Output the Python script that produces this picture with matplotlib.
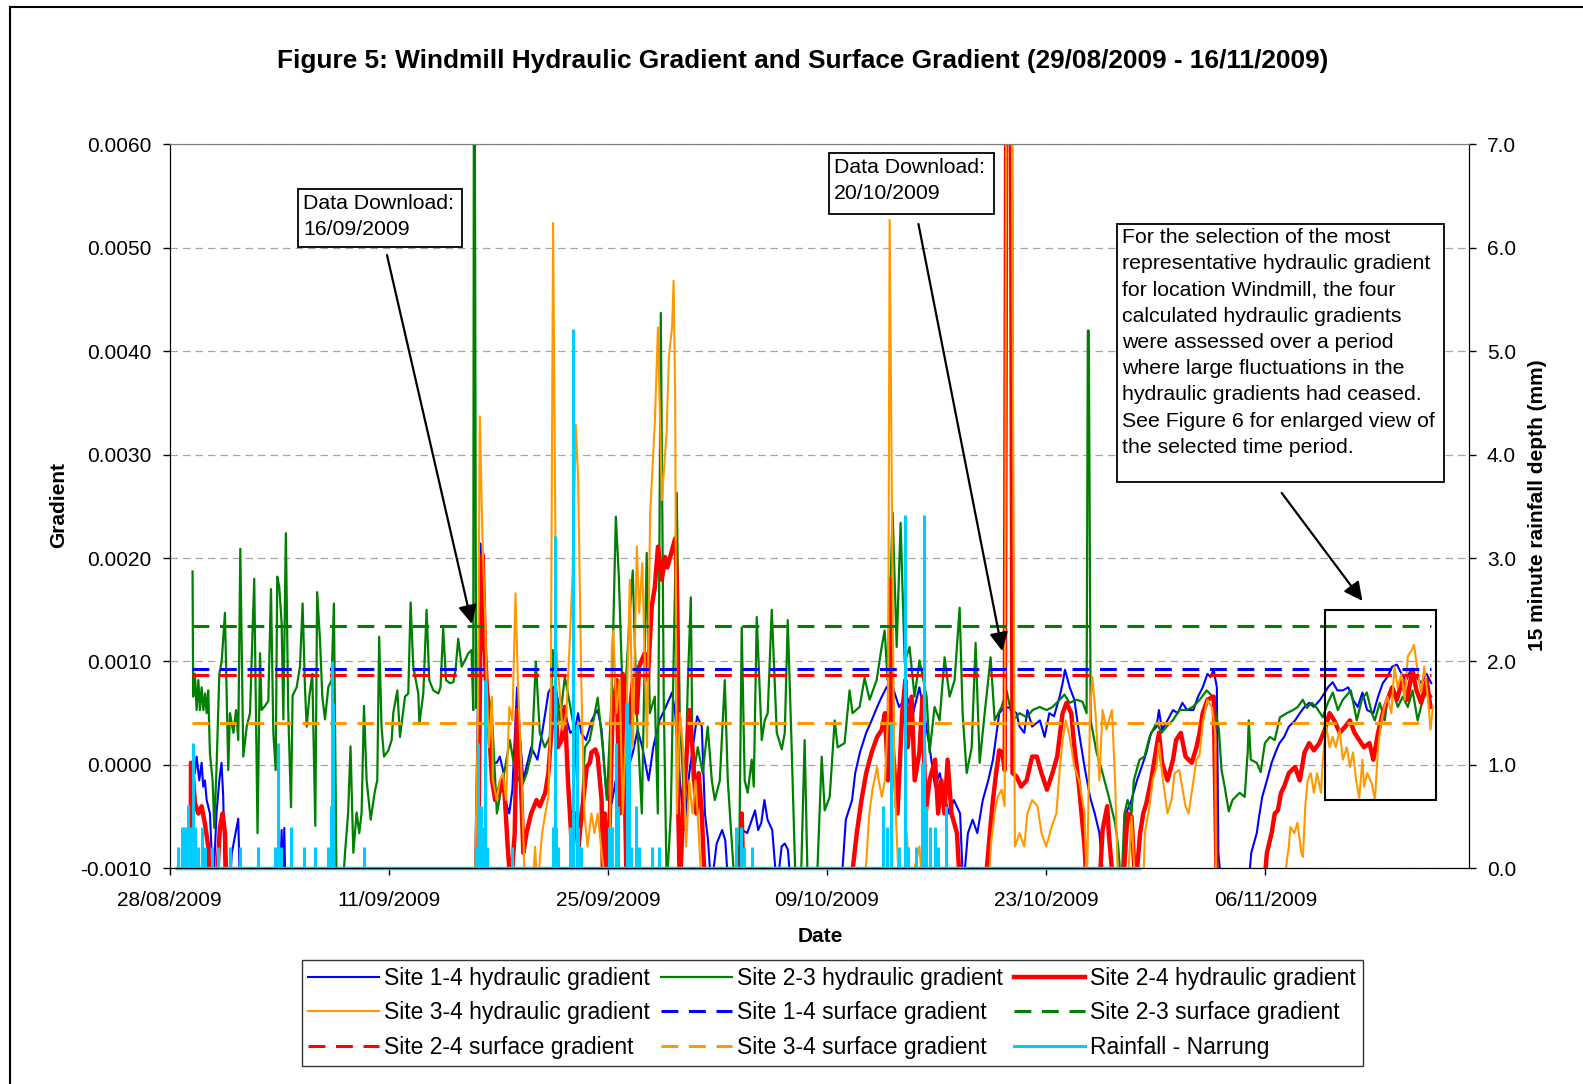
import matplotlib
matplotlib.use('Agg')
import matplotlib.pyplot as plt
import matplotlib.dates as mdates
from matplotlib.lines import Line2D
from matplotlib.patches import Rectangle
from matplotlib.ticker import FormatStrFormatter
from datetime import datetime
import numpy as np

plt.rcParams['font.family'] = ['Liberation Sans', 'DejaVu Sans']

# day offset from 28/08/2009 00:00, gradient in units of 1e-3
# (-1.2 = below the bottom of the axis)
site14_hyd = [
    (1.52, 0.08), (1.62, -0.08), (1.73, 0.08), (1.90, -0.15), (2.05, 0.02), (2.15, -0.21),
    (2.26, -0.15), (2.37, -0.34), (2.58, -0.47), (2.79, -1.2), (3.00, -0.47), (3.18, -0.15),
    (3.32, 0.02), (3.43, -0.31), (3.54, -1.2), (3.86, -1.2), (3.97, -0.86), (4.18, -0.69),
    (4.39, -0.52), (4.50, -1.2), (7.05, -1.2), (7.16, -0.63), (7.25, -1.2), (7.33, -0.61),
    (7.40, -1.2), (19.50, -1.2), (19.87, 2.14), (20.14, 0.82), (20.35, 0.50), (20.66, 0.02),
    (20.90, 0.02), (21.10, 0.08), (21.30, -0.05), (21.50, -0.37), (21.70, -0.47), (21.90, -0.24),
    (22.20, 0.75), (22.40, 0.24), (22.60, -0.15), (22.80, -0.02), (23.10, 0.17), (23.50, 0.05),
    (23.80, 0.31), (24.00, 0.50), (24.20, 0.70), (24.40, 0.75), (24.70, 0.70), (24.90, 0.56),
    (25.25, 0.50), (25.60, 0.31), (25.90, 0.34), (26.10, 0.50), (26.30, 0.31), (26.60, 0.24),
    (26.97, 0.43), (27.20, 0.50), (27.35, 0.53), (27.60, 0.34), (27.90, -0.27), (28.25, -0.37),
    (28.50, -0.15), (28.80, -0.47), (29.20, -0.08), (29.60, 0.12), (29.90, 0.34), (30.20, 0.17),
    (30.60, -0.15), (30.90, 0.17), (31.30, 0.43), (31.70, 0.56), (32.10, 0.70), (32.30, 0.50),
    (32.60, -0.15), (32.90, -0.63), (33.20, -0.08), (33.55, 0.31), (33.70, 0.47), (34.00, 0.37),
    (34.20, -0.47), (34.40, -0.73), (34.60, -1.2), (34.95, -0.76), (35.30, -0.63), (35.50, -0.73),
    (35.70, -1.2), (36.20, -1.2), (36.40, -0.79), (36.60, -0.63), (36.90, -0.66), (37.20, -0.53),
    (37.40, -0.44), (37.60, -0.63), (37.80, -0.56), (38.00, -0.34), (38.20, -0.53), (38.50, -0.63),
    (38.80, -1.2), (39.10, -0.79), (39.30, -0.76), (39.50, -0.82), (39.70, -1.2), (42.90, -1.2),
    (43.20, -0.53), (43.60, -0.34), (43.80, -0.08), (44.10, 0.12), (44.50, 0.31), (44.85, 0.43),
    (45.20, 0.56), (45.50, 0.66), (45.80, 0.75), (46.10, 0.80), (46.60, 0.56), (47.10, 0.66),
    (47.50, 0.50), (47.90, 0.75), (48.20, 0.50), (48.55, 0.17), (48.90, -0.21), (49.20, -0.08),
    (49.50, -0.31), (49.80, -0.47), (50.10, -0.34), (50.50, -0.47), (50.70, -1.2), (51.00, -0.66),
    (51.30, -0.53), (51.60, -0.66), (51.95, -0.34), (52.30, -0.15), (52.60, 0.05), (53.00, 0.50),
    (53.35, 0.56), (53.70, 0.55), (54.10, 0.50), (54.30, 0.37), (54.60, 0.31), (54.80, 0.53),
    (55.10, 0.37), (55.60, 0.43), (55.90, 0.27), (56.20, 0.50), (56.50, 0.47), (56.86, 0.66),
    (57.05, 0.79), (57.20, 0.92), (57.50, 0.75), (57.80, 0.63), (58.10, 0.31), (58.45, -0.02),
    (58.80, -0.31), (59.10, -0.47), (59.40, -0.66), (59.70, -1.2), (60.90, -1.2), (61.10, -0.47),
    (61.45, -0.34), (61.80, -0.15), (62.10, -0.02), (62.40, 0.12), (62.70, 0.31), (63.05, 0.37),
    (63.20, 0.53), (63.40, 0.34), (63.75, 0.43), (64.10, 0.53), (64.40, 0.50), (64.70, 0.60),
    (65.00, 0.53), (65.40, 0.53), (65.70, 0.66), (66.00, 0.75), (66.30, 0.88), (66.50, 0.85),
    (66.70, 0.92), (66.90, 0.75), (67.00, -0.85), (67.20, -1.2), (68.90, -1.2), (69.10, -0.85),
    (69.45, -0.66), (69.60, -0.50), (69.80, -0.31), (70.10, -0.15), (70.40, 0.02), (70.70, 0.14),
    (70.90, 0.21), (71.20, 0.27), (71.50, 0.37), (71.90, 0.43), (72.20, 0.50), (72.50, 0.56),
    (72.80, 0.60), (73.10, 0.56), (73.50, 0.63), (73.80, 0.70), (74.00, 0.75), (74.30, 0.80),
    (74.60, 0.72), (74.95, 0.72), (75.30, 0.75), (75.60, 0.63), (75.90, 0.56), (76.20, 0.70),
    (76.50, 0.53), (76.90, 0.50), (77.20, 0.66), (77.50, 0.79), (77.80, 0.85), (78.10, 0.95),
    (78.40, 0.97), (78.70, 0.88), (79.00, 0.82), (79.30, 0.92), (79.65, 0.85), (79.95, 0.79),
    (80.30, 0.88), (80.60, 0.79),
]

site23_hyd = [
    (1.47, 1.87), (1.51, 0.66), (1.62, 0.88), (1.73, 0.53), (1.84, 0.82), (1.94, 0.53),
    (2.05, 0.75), (2.16, 0.53), (2.27, 0.69), (2.37, 0.50), (2.47, 0.72), (2.58, 0.11),
    (2.75, -0.15), (2.86, -0.61), (3.01, 0.01), (3.18, 0.88), (3.33, 1.00), (3.54, 1.47),
    (3.75, -0.05), (3.86, 0.50), (4.08, 0.31), (4.25, 0.53), (4.39, 0.24), (4.52, 2.09),
    (4.71, 0.08), (4.93, 0.37), (5.14, 0.50), (5.41, 1.80), (5.62, -0.66), (5.78, 1.08),
    (5.88, 0.53), (6.10, 0.57), (6.31, 0.62), (6.48, 1.70), (6.63, 0.31), (6.78, -0.05),
    (6.88, 1.82), (7.01, 1.72), (7.16, 1.37), (7.27, 0.44), (7.43, 2.24), (7.58, 0.53),
    (7.76, -0.41), (7.86, 0.67), (8.12, 0.75), (8.33, 0.95), (8.50, 1.56), (8.65, 0.75),
    (8.76, 0.37), (8.93, 0.66), (9.12, 0.88), (9.31, -0.59), (9.43, 1.67), (9.61, 1.21),
    (9.76, 0.66), (9.93, 0.44), (10.14, 0.75), (10.35, 0.82), (10.50, 1.56), (10.67, -1.2),
    (11.06, -1.2), (11.21, -0.85), (11.41, -0.46), (11.56, 0.18), (11.74, -0.85), (11.95, -0.46),
    (12.12, -0.66), (12.27, -0.46), (12.42, 0.57), (12.59, -0.15), (12.85, -0.53), (13.12, -0.25),
    (13.27, -0.15), (13.39, 1.24), (13.54, 0.37), (13.70, 0.08), (13.98, 0.14), (14.19, 0.24),
    (14.29, 0.50), (14.55, 0.72), (14.72, 0.27), (15.04, 0.66), (15.25, 0.69), (15.40, 1.57),
    (15.57, 0.95), (15.89, 0.69), (15.96, 0.40), (16.21, 0.69), (16.42, 1.50), (16.59, 0.82),
    (16.85, 0.72), (17.17, 0.69), (17.31, 0.75), (17.48, 1.32), (17.66, 0.82), (17.91, 0.79),
    (18.13, 0.80), (18.27, 0.92), (18.44, 1.22), (18.66, 0.95), (18.87, 1.01), (19.09, 1.08),
    (19.29, 1.11), (19.40, 0.53), (19.44, 6.5), (19.50, 6.5), (19.58, 0.55), (19.80, 0.95),
    (20.01, 1.24), (20.27, 0.75), (20.59, 0.50), (20.91, -0.47), (21.29, -0.15), (21.74, 0.24),
    (22.06, -0.05), (22.50, -0.21), (22.82, -0.08), (23.14, 0.12), (23.40, 1.00), (23.65, 0.31),
    (23.97, 0.17), (24.29, 0.27), (24.48, 1.11), (24.74, 0.66), (24.93, 0.43), (25.25, 0.85),
    (25.44, 0.70), (25.89, 0.31), (26.21, -0.79), (26.53, 0.17), (26.84, 0.24), (27.35, 0.65),
    (27.67, 0.17), (27.93, -0.34), (28.25, 0.70), (28.51, 2.40), (28.70, 1.82), (29.00, 0.40),
    (29.40, 1.47), (29.59, 1.88), (29.85, 0.50), (30.17, -0.47), (30.48, 2.05), (30.68, 0.50),
    (31.00, 0.66), (31.19, -0.47), (31.38, 4.37), (31.57, 0.63), (31.76, -1.2), (32.02, -0.47),
    (32.40, 2.63), (32.59, 0.50), (32.91, -0.47), (33.10, 0.75), (33.30, 1.62), (33.42, -0.15),
    (33.74, 0.17), (34.06, -0.08), (34.38, 0.37), (34.64, -0.15), (34.83, -0.34), (35.15, -0.15),
    (35.47, 0.82), (35.66, -0.15), (36.11, -1.2), (36.37, -1.2), (36.55, 1.33), (36.74, -0.15),
    (36.93, -0.27), (37.19, 0.05), (37.32, -0.21), (37.51, 1.43), (37.83, 0.24), (38.02, 0.43),
    (38.21, 0.50), (38.47, 1.50), (38.79, 0.31), (39.11, 0.15), (39.30, 0.31), (39.49, 1.40),
    (39.74, 0.17), (40.00, -1.2), (40.32, -1.2), (40.57, 0.24), (40.77, -1.2), (41.34, -1.2),
    (41.66, 0.08), (41.85, -0.44), (42.17, -0.31), (42.49, 0.43), (42.68, 0.17), (43.12, 0.21),
    (43.44, 0.72), (43.63, 0.50), (44.08, 0.56), (44.40, 0.84), (44.72, 0.63), (45.17, 0.82),
    (45.49, 1.14), (45.68, 1.30), (45.87, 0.82), (46.19, 2.44), (46.45, 1.14), (46.70, 2.34),
    (46.96, 0.99), (47.27, 1.14), (47.59, 0.66), (47.91, 1.01), (48.36, 0.66), (48.55, 0.12),
    (48.87, 0.56), (49.19, 0.43), (49.51, 1.04), (49.83, 0.66), (50.15, 0.82), (50.47, 1.52),
    (50.66, 0.50), (50.92, -0.08), (51.24, 0.17), (51.49, 1.18), (51.75, 0.02), (52.07, 0.50),
    (52.45, 1.04), (52.71, 0.43), (53.15, 0.56), (53.47, 0.72), (53.86, 0.43), (54.30, 0.50),
    (54.75, 0.46), (55.13, 0.53), (55.58, 0.56), (56.03, 0.53), (56.41, 0.56), (56.86, 0.63),
    (57.17, 0.68), (57.49, 0.60), (57.94, 0.63), (58.32, 0.61), (58.58, 0.50), (58.66, 4.20),
    (58.72, 4.20), (58.84, 0.43), (59.22, 0.12), (59.60, -0.08), (60.00, -0.31), (60.40, -0.56),
    (60.60, -0.79), (60.80, -1.2), (61.00, -0.47), (61.20, -0.34), (61.45, -0.47), (61.60, -0.15),
    (61.96, 0.05), (62.28, 0.08), (62.60, 0.27), (63.05, 0.41), (63.37, 0.31), (63.69, 0.37),
    (64.08, 0.43), (64.52, 0.53), (64.97, 0.53), (65.36, 0.56), (65.81, 0.63), (66.25, 0.72),
    (66.64, 0.66), (67.03, 0.34), (67.20, -0.05), (67.40, -0.21), (67.66, -0.45), (67.90, -0.34),
    (68.36, -0.27), (68.68, -0.31), (68.87, 0.12), (68.94, 0.43), (69.07, 0.05), (69.45, 0.02),
    (69.70, -0.07), (69.97, 0.21), (70.29, 0.27), (70.60, 0.24), (70.93, 0.46), (71.37, 0.50),
    (71.77, 0.53), (72.07, 0.56), (72.39, 0.63), (72.65, 0.55), (72.97, 0.60), (73.29, 0.55),
    (73.67, 0.46), (73.99, 0.60), (74.31, 0.70), (74.63, 0.53), (74.95, 0.63), (75.46, 0.72),
    (75.84, 0.43), (76.16, 0.63), (76.48, 0.70), (76.80, 0.50), (76.99, 0.43), (77.31, 0.60),
    (77.63, 0.43), (77.82, 0.66), (78.14, 0.72), (78.46, 0.56), (78.78, 0.66), (79.10, 0.56),
    (79.40, 0.72), (79.73, 0.43), (80.05, 0.63), (80.37, 0.72), (80.60, 0.66),
]

site24_hyd = [
    (1.35, -1.2), (1.37, 0.02), (1.47, -0.05), (1.62, -0.37), (1.84, -0.47), (2.05, -0.40),
    (2.26, -0.57), (2.47, -0.79), (2.58, -1.2), (3.00, -1.2), (3.22, -0.60), (3.39, -0.47),
    (3.54, -0.66), (3.64, -1.2), (19.70, -1.2), (19.90, 1.91), (20.00, 2.03), (20.14, 1.14),
    (20.35, 0.50), (20.60, -0.15), (20.80, -0.34), (21.00, -0.27), (21.20, -0.15), (21.40, -0.27),
    (21.60, -0.79), (21.80, -1.2), (22.05, -0.66), (22.20, 0.53), (22.40, 0.02), (22.60, -0.85),
    (22.80, -0.66), (23.10, -0.47), (23.45, -0.34), (23.65, -0.40), (24.00, -0.27), (24.20, -0.08),
    (24.40, 0.34), (24.60, 0.75), (24.80, 0.17), (25.05, 0.24), (25.25, 0.56), (25.45, -0.15),
    (25.70, -0.79), (25.90, -0.47), (26.10, -0.79), (26.30, -0.53), (26.65, -0.02), (26.85, 0.02),
    (26.95, 0.12), (27.20, 0.15), (27.35, 0.08), (27.60, -0.34), (27.70, -1.2), (27.80, -0.47),
    (28.00, -1.2), (28.30, 0.50), (28.56, 0.82), (28.76, -0.47), (28.95, 0.88), (29.20, -1.2),
    (29.40, 0.50), (29.60, 0.82), (29.85, 0.50), (30.00, 0.95), (30.35, 1.08), (30.55, 0.82),
    (30.80, 1.53), (31.00, 1.72), (31.20, 2.11), (31.45, 1.79), (31.65, 2.01), (31.80, 1.91),
    (32.10, 2.08), (32.30, 2.19), (32.40, 1.79), (32.50, -0.47), (32.60, -1.2), (32.80, -0.47),
    (33.00, 0.02), (33.20, 0.53), (33.40, 0.17), (33.65, -0.47), (33.80, -0.08), (34.00, -0.47),
    (34.20, -1.2), (36.45, -1.2), (36.55, -0.47), (36.67, -1.2), (43.50, -1.2), (43.90, -0.66),
    (44.20, -0.34), (44.50, -0.08), (44.85, 0.12), (45.20, 0.27), (45.50, 0.34), (45.70, 0.50),
    (45.90, -0.15), (46.05, 1.79), (46.20, 0.17), (46.50, -0.47), (46.80, 0.50), (47.00, 0.82),
    (47.15, 0.17), (47.40, 0.66), (47.60, -0.15), (47.90, 0.12), (48.10, 0.66), (48.30, -0.47),
    (48.55, -0.15), (48.90, 0.05), (49.10, -0.47), (49.30, -0.15), (49.50, -0.47), (49.70, 0.05),
    (49.95, -0.47), (50.30, -0.66), (50.50, -1.2), (52.10, -1.2), (52.40, -0.66), (52.60, -0.34),
    (52.80, -0.08), (53.00, 0.14), (53.20, 0.12), (53.35, -0.05), (53.45, 6.5), (53.75, 6.5),
    (53.85, -0.08), (54.10, -0.11), (54.40, -0.21), (54.75, -0.15), (55.10, 0.08), (55.40, 0.08),
    (55.70, -0.08), (56.05, -0.24), (56.40, -0.08), (56.70, 0.08), (57.05, 0.50), (57.30, 0.60),
    (57.60, 0.50), (57.80, 0.17), (58.10, -0.21), (58.45, -0.79), (58.60, -1.2), (59.40, -1.2),
    (59.60, -0.63), (59.90, -0.40), (60.00, -0.66), (60.30, -1.2), (60.90, -1.2), (61.20, -0.47),
    (61.45, -0.50), (61.70, -1.2), (62.00, -0.66), (62.20, -0.47), (62.40, -0.37), (62.70, -0.15),
    (63.05, 0.17), (63.20, 0.31), (63.40, 0.02), (63.75, -0.15), (64.10, 0.05), (64.30, 0.24),
    (64.60, 0.31), (64.90, 0.08), (65.30, 0.02), (65.60, 0.17), (65.80, 0.31), (66.00, 0.50),
    (66.30, 0.63), (66.70, 0.66), (66.90, -1.2), (69.90, -1.2), (70.10, -0.85), (70.40, -0.66),
    (70.60, -0.47), (70.80, -0.44), (71.00, -0.27), (71.20, -0.21), (71.50, -0.08), (71.90, -0.02),
    (72.20, -0.15), (72.50, 0.12), (72.80, 0.21), (73.10, 0.14), (73.45, 0.21), (73.80, 0.34),
    (74.10, 0.50), (74.40, 0.43), (74.75, 0.31), (75.10, 0.37), (75.40, 0.43), (75.70, 0.31),
    (76.00, 0.24), (76.30, 0.17), (76.65, 0.21), (76.90, 0.05), (77.20, 0.31), (77.50, 0.50),
    (77.80, 0.63), (78.10, 0.75), (78.40, 0.63), (78.75, 0.82), (79.05, 0.63), (79.40, 0.92),
    (79.65, 0.72), (79.95, 0.60), (80.30, 0.82), (80.55, 0.56),
]

site34_hyd = [
    (19.50, -1.2), (19.70, 0.50), (19.82, 3.37), (20.00, 2.11), (20.15, 1.47), (20.25, 0.82),
    (20.40, 0.17), (20.60, 0.66), (20.65, -0.15), (20.90, -0.34), (21.10, -0.15), (21.30, -0.08),
    (21.50, -0.34), (21.70, 0.56), (21.90, 0.43), (22.10, 1.66), (22.25, 0.82), (22.50, -0.15),
    (22.70, -1.2), (23.20, -1.2), (23.35, -0.79), (23.50, -1.2), (23.80, -0.66), (24.00, -0.47),
    (24.20, -0.31), (24.35, 0.50), (24.50, 5.24), (24.70, 1.14), (24.90, 0.75), (25.10, 0.34),
    (25.35, 0.50), (25.55, 1.14), (25.75, 1.85), (25.95, 3.29), (26.10, 2.77), (26.30, 0.82),
    (26.50, -0.47), (26.70, -0.79), (26.95, -0.47), (27.15, -0.66), (27.35, -0.47), (27.60, -0.85),
    (27.90, -1.2), (28.10, -1.2), (28.25, 1.14), (28.35, 1.30), (28.55, 0.50), (28.75, 0.82),
    (28.95, -0.47), (29.20, 0.50), (29.40, 1.79), (29.60, 0.17), (29.85, 2.11), (30.00, 1.47),
    (30.20, 1.95), (30.50, 0.17), (30.70, 2.43), (30.85, 2.88), (31.00, 3.31), (31.20, 4.23),
    (31.45, 2.56), (31.75, 3.21), (31.90, 3.95), (32.10, 4.23), (32.20, 4.68), (32.30, 3.53),
    (32.40, -0.47), (32.60, 0.50), (32.80, 0.17), (33.00, -0.79), (33.20, -0.15), (33.40, -0.47),
    (33.60, -0.15), (33.80, -0.66), (34.00, -1.2), (44.40, -1.2), (44.70, -0.47), (44.90, -0.24),
    (45.20, -0.02), (45.30, -0.15), (45.50, -0.31), (45.70, -0.15), (45.90, 0.50), (46.00, 5.27),
    (46.20, 1.47), (46.30, -0.15), (46.60, -1.2), (47.00, -1.2), (47.10, -0.66), (47.30, -1.2),
    (47.90, -0.79), (48.10, -1.2), (52.30, -1.2), (52.50, -0.73), (52.70, -0.47), (52.90, -0.31),
    (53.15, -0.24), (53.35, -0.40), (53.45, 6.5), (53.80, 6.5), (54.00, -0.79), (54.30, -0.66),
    (54.60, -0.79), (54.80, -0.47), (55.10, -0.34), (55.45, -0.40), (55.70, -0.66), (56.00, -0.79),
    (56.35, -0.60), (56.65, -0.47), (56.86, -0.05), (57.05, 0.24), (57.25, 0.43), (57.50, 0.27),
    (57.80, -0.02), (58.10, -0.15), (58.45, -0.47), (58.60, -1.2), (58.80, 0.50), (58.95, 0.85),
    (59.15, 0.50), (59.40, -0.15), (59.60, 0.53), (59.85, 0.34), (60.20, 0.53), (60.40, -0.15),
    (60.60, -1.2), (61.20, -1.2), (61.45, -0.50), (61.70, -1.2), (62.20, -1.2), (62.30, -0.66),
    (62.60, -0.40), (62.80, -0.15), (63.05, -0.02), (63.20, 0.21), (63.40, -0.08), (63.75, -0.47),
    (64.00, -0.34), (64.20, -0.08), (64.50, -0.05), (64.90, -0.40), (65.10, -0.47), (65.35, -0.21),
    (65.60, 0.05), (65.80, 0.10), (66.00, 0.40), (66.30, 0.63), (66.60, 0.55), (66.80, 0.30),
    (66.85, -1.2), (71.20, -1.2), (71.40, -0.89), (71.50, -0.79), (71.60, -0.60), (71.85, -0.66),
    (72.05, -0.56), (72.30, -0.85), (72.40, -0.89), (72.55, -0.40), (72.70, -0.15), (72.90, -0.08),
    (73.10, -0.27), (73.30, -0.08), (73.55, -0.27), (73.70, 0.12), (73.90, 0.37), (74.10, 0.17),
    (74.30, 0.27), (74.50, 0.17), (74.75, 0.34), (74.95, 0.05), (75.20, 0.17), (75.40, -0.02),
    (75.60, 0.12), (75.80, -0.15), (76.00, -0.32), (76.20, 0.05), (76.30, -0.21), (76.50, -0.08),
    (76.80, -0.18), (77.00, -0.34), (77.20, 0.17), (77.40, 0.41), (77.60, 0.56), (77.80, 0.66),
    (78.05, 0.50), (78.25, 0.95), (78.45, 0.75), (78.70, 0.88), (78.90, 0.63), (79.10, 1.05),
    (79.35, 1.11), (79.50, 1.16), (79.75, 0.88), (79.95, 0.70), (80.15, 0.95), (80.40, 0.63),
    (80.55, 0.34), (80.70, 0.56),
]

# surface gradients (constant), 1e-3
surf_vals = {'1-4': 0.925, '2-3': 1.343, '2-4': 0.869, '3-4': 0.402}
surf_period = [1.45, 80.6]

# 15 minute rainfall (mm) - Narrung
rain_events = [
    (0.56, 0.21), (0.77, 0.40), (0.98, 0.40), (1.20, 0.61), (1.35, 0.40), (1.52, 1.21),
    (1.62, 0.40), (1.83, 0.21), (2.05, 0.40), (2.26, 0.21), (2.69, 0.21), (3.11, 0.21),
    (3.86, 0.21), (4.50, 0.21), (5.67, 0.21), (6.73, 0.21), (6.94, 1.21), (7.09, 0.21),
    (7.73, 0.40), (8.58, 0.21), (9.28, 0.21), (10.13, 0.21), (10.29, 0.60), (10.35, 2.00),
    (10.46, 1.60), (12.41, 0.21), (19.60, 0.21), (19.70, 1.21), (19.82, 0.21), (19.90, 0.60),
    (20.00, 0.40), (20.15, 1.82), (20.25, 0.21), (21.90, 0.21), (24.50, 0.40), (24.60, 3.21),
    (24.70, 0.40), (24.80, 0.21), (25.60, 0.40), (25.80, 5.21), (26.00, 1.40), (26.10, 0.40),
    (26.30, 0.21), (28.10, 0.40), (28.25, 0.40), (28.55, 1.21), (28.65, 0.60), (29.20, 1.60),
    (29.35, 1.40), (29.50, 0.21), (29.80, 0.60), (30.00, 0.21), (30.80, 0.21), (31.25, 0.21),
    (36.20, 0.40), (36.50, 0.40), (36.67, 0.21), (37.20, 0.21), (45.55, 0.60), (45.80, 0.40),
    (46.10, 1.40), (46.60, 0.21), (47.00, 3.42), (47.20, 0.21), (47.70, 0.21), (48.05, 1.02),
    (48.20, 3.42), (48.35, 0.60), (48.55, 0.40), (48.90, 0.40), (49.10, 0.21), (49.60, 0.60),
]
rain_period = [0.45, 61.95]

tick_dates = ['28/08/2009', '11/09/2009', '25/09/2009', '09/10/2009', '23/10/2009', '06/11/2009']

t0 = mdates.date2num(datetime(2009, 8, 28))


def series(pairs):
    arr = np.array(pairs, dtype=float)
    return t0 + arr[:, 0], arr[:, 1] * 1e-3


fig = plt.figure(figsize=(15.83, 10.84), dpi=100)
ax = fig.add_axes([0.1071, 0.1990, 0.8208, 0.6678])
ax2 = ax.twinx()

c_blue, c_green, c_red, c_orange, c_cyan = '#0000FF', '#008000', '#FF0000', '#FF9900', '#00CCFF'

x, y = series(site14_hyd)
ax.plot(x, y, color=c_blue, lw=1.5, zorder=3)
x, y = series(site23_hyd)
ax.plot(x, y, color=c_green, lw=1.6, zorder=3)
x, y = series(site24_hyd)
ax.plot(x, y, color=c_red, lw=3.2, zorder=3)
x, y = series(site34_hyd)
ax.plot(x, y, color=c_orange, lw=1.5, zorder=3)

dash = (0, (5.5, 3.5))
sx = t0 + np.array(surf_period)
for key, col in [('1-4', c_blue), ('2-3', c_green), ('2-4', c_red), ('3-4', c_orange)]:
    ax.plot(sx, [surf_vals[key] * 1e-3] * 2, color=col, lw=2.2, linestyle=dash, zorder=4)

rd = np.array(rain_events)
ax2.vlines(t0 + rd[:, 0], 0, rd[:, 1], color=c_cyan, lw=2.2)
ax2.plot(t0 + np.array(rain_period), [0, 0], color=c_cyan, lw=2.5, clip_on=False)

ax.set_xlim(t0, t0 + 83)
ax.set_ylim(-0.001, 0.006)
ax2.set_ylim(0, 7)
ax.set_yticks([-0.001, 0.0, 0.001, 0.002, 0.003, 0.004, 0.005, 0.006])
ax.yaxis.set_major_formatter(FormatStrFormatter('%.4f'))
ax2.set_yticks(range(8))
ax2.yaxis.set_major_formatter(FormatStrFormatter('%.1f'))
ax.set_xticks([t0 + 14 * i for i in range(len(tick_dates))])
ax.set_xticklabels(tick_dates)

ax.yaxis.grid(True, color='#a6a6a6', linestyle=(0, (6, 4)), lw=0.9)
ax.set_axisbelow(True)
for a in (ax, ax2):
    a.spines['top'].set_color('#808080')
    a.tick_params(direction='out', length=5, width=1, labelsize=15, pad=8)
ax.tick_params(axis='x', pad=11)

fig.text(0.507, 0.944, 'Figure 5: Windmill Hydraulic Gradient and Surface Gradient (29/08/2009 - 16/11/2009)',
         ha='center', va='center', fontsize=18.9, fontweight='bold')
fig.text(0.037, 0.534, 'Gradient', rotation=90, ha='center', va='center', fontsize=15, fontweight='bold')
fig.text(0.971, 0.534, '15 minute rainfall depth (mm)', rotation=90, ha='center', va='center',
         fontsize=15, fontweight='bold')
fig.text(0.518, 0.1365, 'Date', ha='center', va='center', fontsize=15, fontweight='bold')


def note_box(x0, x1, y0, y1, text, tx, ty):
    ax.add_patch(Rectangle((t0 + x0, y0 * 1e-3), x1 - x0, (y1 - y0) * 1e-3, fc='white',
                           ec='black', lw=1.3, zorder=6))
    ax.text(t0 + tx, ty * 1e-3, text, ha='left', va='top', fontsize=15.3, zorder=7,
            linespacing=1.48)


note_box(8.20, 18.67, 5.004, 5.569, 'Data Download:\n16/09/2009', 8.55, 5.525)
note_box(42.11, 52.68, 5.328, 5.913, 'Data Download:\n20/10/2009', 42.45, 5.870)
note = ('For the selection of the most\nrepresentative hydraulic gradient\nfor location Windmill, the four\n'
        'calculated hydraulic gradients\nwere assessed over a period\nwhere large fluctuations in the\n'
        'hydraulic gradients had ceased.\nSee Figure 6 for enlarged view of\nthe selected time period.')
note_box(60.50, 81.44, 2.736, 5.229, note, 60.86, 5.190)

arrow = dict(arrowstyle='-|>', color='black', lw=1.6, mutation_scale=28, shrinkA=0, shrinkB=0)
ax.annotate('', xy=(t0 + 19.31, 0.001363), xytext=(t0 + 13.89, 0.00493), arrowprops=arrow, zorder=6)
ax.annotate('', xy=(t0 + 53.2, 0.00110), xytext=(t0 + 47.84, 0.00523), arrowprops=arrow, zorder=6)
ax.annotate('', xy=(t0 + 76.2, 0.001585), xytext=(t0 + 71.04, 0.00263), arrowprops=arrow, zorder=6)

ax.add_patch(Rectangle((t0 + 73.78, -0.00034), 7.09, 0.001838, fill=False, ec='black', lw=1.5, zorder=6))

handles = [
    Line2D([], [], color=c_blue, lw=1.5),
    Line2D([], [], color=c_orange, lw=1.5),
    Line2D([], [], color=c_red, lw=2.2, linestyle=dash),
    Line2D([], [], color=c_green, lw=1.6),
    Line2D([], [], color=c_blue, lw=2.2, linestyle=dash),
    Line2D([], [], color=c_orange, lw=2.2, linestyle=dash),
    Line2D([], [], color=c_red, lw=3.2),
    Line2D([], [], color=c_green, lw=2.2, linestyle=dash),
    Line2D([], [], color=c_cyan, lw=2.2),
]
labels = ['Site 1-4 hydraulic gradient', 'Site 3-4 hydraulic gradient', 'Site 2-4 surface gradient',
          'Site 2-3 hydraulic gradient', 'Site 1-4 surface gradient', 'Site 3-4 surface gradient',
          'Site 2-4 hydraulic gradient', 'Site 2-3 surface gradient', 'Rainfall - Narrung']
leg = fig.legend(handles, labels, loc='center', bbox_to_anchor=(0.5256, 0.0655), ncol=3,
                 fontsize=16.5, frameon=True, fancybox=False, edgecolor='black', handlelength=3.1,
                 handletextpad=0.2, columnspacing=0.5, labelspacing=0.5, borderpad=0.3)
leg.get_frame().set_linewidth(1.0)

fig.patches.append(Rectangle((10 / 1583, -0.05), 1.2, 1.05 - 7 / 1084, transform=fig.transFigure,
                             fill=False, ec='black', lw=1.5))

fig.savefig('out.png', dpi=100)
